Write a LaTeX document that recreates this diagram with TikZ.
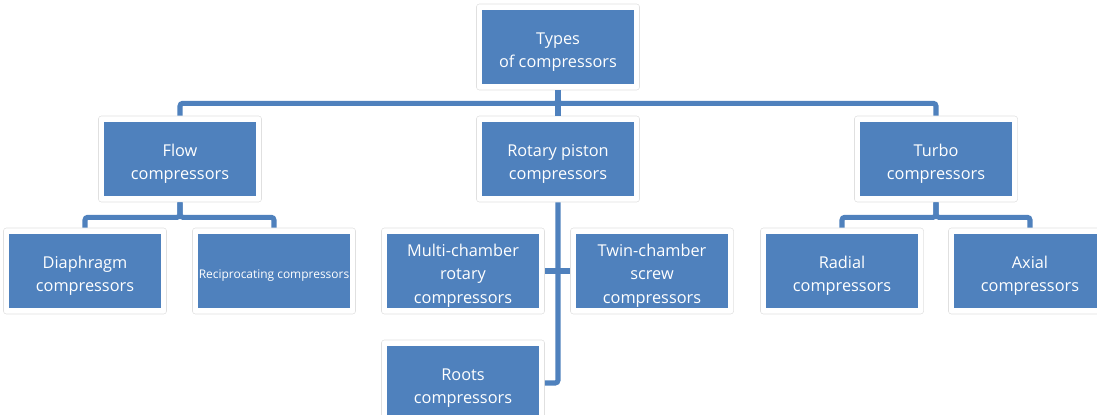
\documentclass[tikz,border=0pt]{standalone}
\usepackage{fontspec}
\setmainfont{Open Sans}
\usetikzlibrary{calc}
\definecolor{bleuboite}{RGB}{79,129,189}
\newcommand\haut{\rule{0pt}{15.5pt}}

\begin{document}
\begin{tikzpicture} [x=0.025cm,y=-0.025cm,
  boite/.style=
  {rectangle,rounded corners=2pt, fill=white, draw=black!12, thin,
    minimum width=4.075cm, minimum height=2.15cm, inner sep=0pt,
    align=center, text=white, font=\fontsize{11.6}{16.5}\selectfont,
    path picture={\fill[bleuboite,sharp corners]
      ([shift={(0.15cm,-0.15cm)}]path picture bounding box.north west) rectangle
      ([shift={(-0.15cm,0.15cm)}]path picture bounding box.south east);}},
  lien/.style={draw=bleuboite, line width=3.6pt, rounded corners=2pt}]
\useasboundingbox (0,0) rectangle (1097,414);
\node [boite] (types) at (558,47) {\haut Types\\ of compressors};
\node [boite] (flow) at ($(types)+(-378,112)$) {\haut Flow\\ compressors};
\node [boite] (rotary) at ($(types)+(0,112)$) {\haut Rotary piston\\ compressors};
\node [boite] (turbo) at ($(types)+(378,112)$) {\haut Turbo\\ compressors};
\node [boite] (diaphragm) at ($(flow)+(-95,112)$) {\haut Diaphragm\\ compressors};
\node [boite,font=\fontsize{8.5}{10}\selectfont] (reciprocating) at ($(flow)+(94,112)$) {\rule{0pt}{12pt}Reciprocating compressors};
\node [boite] (multi) at ($(rotary)+(-95,112)$) {\haut Multi-chamber\\ rotary\\ compressors};
\node [boite] (twin) at ($(rotary)+(94,112)$) {\haut Twin-chamber\\ screw\\ compressors};
\node [boite] (roots) at ($(multi)+(0,112)$) {\haut Roots\\ compressors};
\node [boite] (radial) at ($(turbo)+(-94,112)$) {\haut Radial\\ compressors};
\node [boite] (axial) at ($(turbo)+(94,112)$) {\haut Axial\\ compressors};
\draw [lien] (types.south) -- ++(0,13) -| (flow.north);
\draw [lien] (types.south) -- ++(0,13) -| (turbo.north);
\draw [lien] (types.south) -- (rotary.north);
\draw [lien] (flow.south) -- ++(0,15) -| (diaphragm.north);
\draw [lien] (flow.south) -- ++(0,15) -| (reciprocating.north);
\draw [lien] (turbo.south) -- ++(0,15) -| (radial.north);
\draw [lien] (turbo.south) -- ++(0,15) -| (axial.north);
\draw [lien] (rotary.south) |- (roots.east);
\draw [lien] (multi.east) -- (twin.west);
\end{tikzpicture}
\end{document}
